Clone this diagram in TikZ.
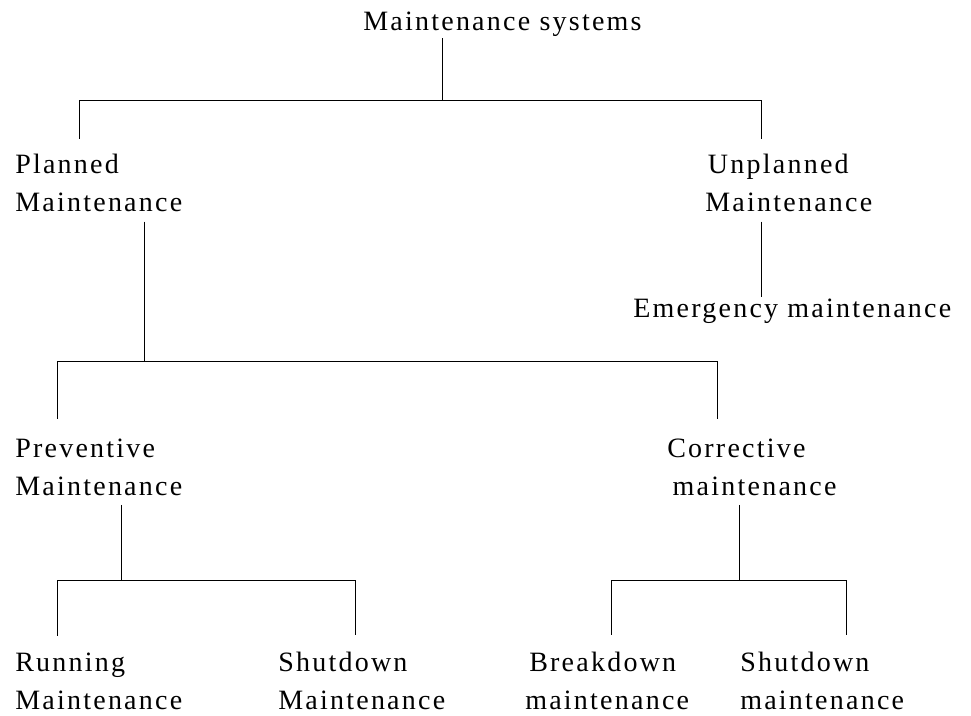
\documentclass[tikz,border=0pt]{standalone}
\usepackage{fontspec}
\setmainfont{Liberation Serif}[LetterSpace=8]
\begin{document}
\begin{tikzpicture}[x=0.75pt,y=-0.75pt,font=\fontsize{21}{28.5}\selectfont,
  lbl/.style={anchor=base west,inner sep=0,align=left}]
\useasboundingbox (0,0) rectangle (971,715);
% labels
\node [lbl] (root) at (363,30) {Maintenance systems};
\node [lbl] (pln) at (15,211) {Planned\\Maintenance};
\node [lbl] (upl) at (705,211) {\hspace{2pt}Unplanned\\Maintenance};
\node [lbl] (emg) at (633,317) {Emergency maintenance};
\node [lbl] (prv) at (15,495) {Preventive\\Maintenance};
\node [lbl] (cor) at (667,495) {Corrective\\\hspace{4pt}maintenance};
\node [lbl] (run) at (15,709) {Running\\Maintenance};
\node [lbl] (sd1) at (278,709) {Shutdown\\Maintenance};
\node [lbl] (brk) at (525,709) {\hspace{3pt}Breakdown\\maintenance};
\node [lbl] (sd2) at (740,709) {Shutdown\\maintenance};
% junctions
\coordinate (j0) at (442,100);
\coordinate (j0l) at (79,100);
\coordinate (j0r) at (761,100);
\coordinate (j1) at (144,361);
\coordinate (j1l) at (57,361);
\coordinate (j1r) at (717,361);
\coordinate (j2) at (121,580);
\coordinate (j2l) at (57,580);
\coordinate (j2r) at (355,580);
\coordinate (j3) at (739,580);
\coordinate (j3l) at (611,580);
\coordinate (j3r) at (846,580);
% top level
\draw ([yshift=-1.5pt]root.south -| j0) -- (j0);
\draw (j0l) -- (j0r);
\draw (j0l) -- ([yshift=11pt]pln.north -| j0l);
\draw (j0r) -- ([yshift=11pt]upl.north -| j0r);
\draw ([yshift=-7.5pt]upl.south -| j0r) -- ([yshift=1pt]emg.north -| j0r);
% planned
\draw ([yshift=-7.5pt]pln.south -| j1) -- (j1);
\draw (j1l) -- (j1r);
\draw (j1l) -- ([yshift=14.5pt]prv.north -| j1l);
\draw (j1r) -- ([yshift=14.5pt]cor.north -| j1r);
% preventive and corrective
\draw ([yshift=-7pt]prv.south -| j2) -- (j2);
\draw ([yshift=-7pt]cor.south -| j3) -- (j3);
\draw (j2l) -- (j2r);
\draw (j3l) -- (j3r);
\foreach \j/\n in {j2l/run,j2r/sd1,j3l/brk,j3r/sd2}
  \draw (\j) -- ([yshift=12.5pt]\n.north -| \j);
\end{tikzpicture}
\end{document}
